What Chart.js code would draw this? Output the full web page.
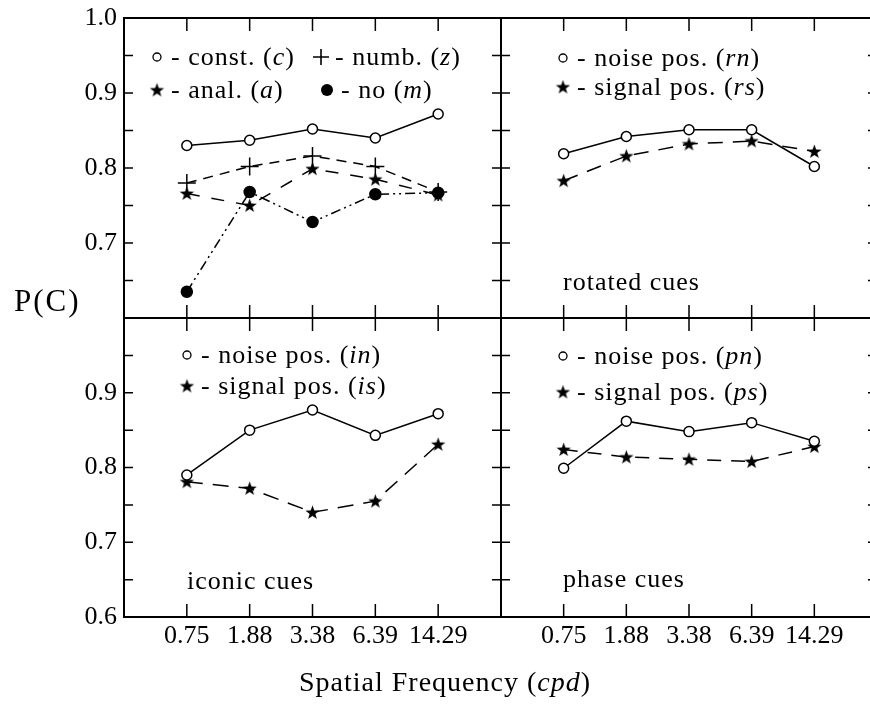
<!DOCTYPE html>
<html>
<head>
<meta charset="utf-8">
<script src="https://cdn.jsdelivr.net/npm/chart.js@4/dist/chart.umd.min.js"></script>
<style>
  html, body { margin: 0; padding: 0; background: #fff; overflow: hidden; }
  #wrap { position: relative; width: 870px; height: 707px; overflow: hidden; background: #fff; }
  canvas { position: absolute; }
  .lbl { position: absolute; font-family: "Liberation Serif", serif; color: #000; white-space: nowrap; line-height: 1; }
</style>
</head>
<body>
<div id="wrap">
  <canvas id="tl"></canvas>
  <canvas id="tr"></canvas>
  <canvas id="bl"></canvas>
  <canvas id="br"></canvas>
  <div class="lbl" style="left:14px; top:285px; font-size:31px; letter-spacing:2px;">P(C)</div>
  <div class="lbl" style="left:299px; top:668px; font-size:28px; letter-spacing:1px;">Spatial Frequency (<i>cpd</i>)</div>
</div>
<script>
// spatial frequencies (cpd), one tick per condition
const freqLabels = ['0.75', '1.88', '3.38', '6.39', '14.29'];
const yTicks = [0.6, 0.65, 0.7, 0.75, 0.8, 0.85, 0.9, 0.95, 1.0];
const yLabelsTop = ['0.7', '0.8', '0.9', '1.0'];
const yLabelsBottom = ['0.6', '0.7', '0.8', '0.9'];

// top left: cue types
const constC = [0.830, 0.837, 0.852, 0.840, 0.872];
const numbZ  = [0.780, 0.802, 0.816, 0.802, 0.768];
const analA  = [0.766, 0.750, 0.799, 0.785, 0.764];
const noM    = [0.635, 0.768, 0.728, 0.765, 0.767];
// top right: rotated cues
const rotN = [0.819, 0.842, 0.851, 0.851, 0.802];
const rotS = [0.783, 0.816, 0.832, 0.836, 0.822];
// bottom left: iconic cues
const iconN = [0.790, 0.850, 0.877, 0.843, 0.872];
const iconS = [0.781, 0.772, 0.740, 0.755, 0.831];
// bottom right: phase cues
const phaseN = [0.799, 0.862, 0.848, 0.860, 0.835];
const phaseS = [0.824, 0.814, 0.811, 0.808, 0.828];

const FONT = '"Liberation Serif", serif';
Chart.defaults.font.family = FONT;
Chart.defaults.color = '#000';

function makeStar(r) {
  const c = document.createElement('canvas');
  const s = Math.ceil(r * 2 + 2);
  c.width = s; c.height = s;
  const g = c.getContext('2d');
  g.beginPath();
  for (let k = 0; k < 10; k++) {
    const a = -Math.PI / 2 + k * Math.PI / 5;
    const rr = k % 2 ? r * 0.4 : r;
    g.lineTo(s / 2 + rr * Math.cos(a), s / 2 + 0.5 + rr * Math.sin(a));
  }
  g.closePath();
  g.fillStyle = '#000';
  g.fill();
  return c;
}
const star = makeStar(7.5);

function pts(vals) {
  return vals.map((v, i) => ({ x: i, y: v }));
}

function series(vals, kind, dash) {
  const d = {
    data: pts(vals),
    borderColor: '#000',
    borderWidth: 1.5,
    borderDash: dash,
    borderCapStyle: 'butt',
    tension: 0,
    pointBorderColor: '#000',
    pointBorderWidth: 1.5,
    pointBackgroundColor: '#fff',
    pointRadius: 5
  };
  if (kind === 'circle') { d.pointStyle = 'circle'; }
  if (kind === 'dot') { d.pointStyle = 'circle'; d.pointBackgroundColor = '#000'; d.pointRadius = 5.5; }
  if (kind === 'plus') { d.pointStyle = 'cross'; d.pointRadius = 9; }
  if (kind === 'star') { d.pointStyle = star; d.pointRadius = 8; }
  return d;
}

function drawRich(ctx, str, x, y) {
  str.split('*').forEach((p, i) => {
    ctx.font = (i % 2 ? 'italic ' : '') + '26px ' + FONT;
    ctx.fillText(p, x, y);
    x += ctx.measureText(p).width;
  });
}

function drawMarker(ctx, kind, x, y) {
  ctx.beginPath();
  if (kind === 'circle') {
    ctx.lineWidth = 1.3;
    ctx.arc(x, y, 4, 0, 2 * Math.PI);
    ctx.stroke();
  } else if (kind === 'dot') {
    ctx.arc(x, y, 6, 0, 2 * Math.PI);
    ctx.fill();
  } else if (kind === 'plus') {
    ctx.lineWidth = 1.6;
    ctx.moveTo(x - 8, y); ctx.lineTo(x + 8, y);
    ctx.moveTo(x, y - 8); ctx.lineTo(x, y + 8);
    ctx.stroke();
  } else if (kind === 'star') {
    ctx.drawImage(star, x - star.width / 2, y - star.height / 2);
  }
}

// frame, inward ticks, in-panel key and caption
const framePlugin = {
  id: 'frame',
  afterDraw(chart, args, o) {
    const { ctx, chartArea: a, scales: { x, y } } = chart;
    ctx.save();
    ctx.strokeStyle = '#000';
    ctx.fillStyle = '#000';
    ctx.lineWidth = 2;
    ctx.strokeRect(a.left, a.top, a.right - a.left, a.bottom - a.top);
    ctx.lineWidth = 1.5;
    ctx.beginPath();
    x.ticks.forEach(t => {
      const px = x.getPixelForValue(t.value);
      ctx.moveTo(px, a.top); ctx.lineTo(px, a.top + 13);
      ctx.moveTo(px, a.bottom); ctx.lineTo(px, a.bottom - 13);
    });
    y.ticks.forEach(t => {
      const py = y.getPixelForValue(t.value);
      ctx.moveTo(a.left, py); ctx.lineTo(a.left + 9, py);
      ctx.moveTo(a.right, py); ctx.lineTo(a.right - 9, py);
    });
    ctx.stroke();

    ctx.letterSpacing = '1px';
    ctx.textBaseline = 'alphabetic';
    ctx.textAlign = 'left';
    (o.key || []).forEach(k => {
      drawMarker(ctx, k.m, a.left + k.x, a.top + k.y);
      drawRich(ctx, k.t, a.left + k.x + 14, a.top + k.y + 8);
    });
    if (o.caption) {
      drawRich(ctx, o.caption.t, a.left + o.caption.x, a.top + o.caption.y);
    }
    ctx.restore();
  }
};

function panel(id, area, pad, datasets, yLabels, showX, frameOpts) {
  const cv = document.getElementById(id);
  const w = area.r - area.l + pad.l + pad.r;
  const h = area.b - area.t + pad.t + pad.b;
  cv.width = w; cv.height = h;
  cv.style.left = (area.l - pad.l) + 'px';
  cv.style.top = (area.t - pad.t) + 'px';
  cv.style.width = w + 'px';
  cv.style.height = h + 'px';
  const noPad = s => { s.paddingTop = 0; s.paddingBottom = 0; s.paddingLeft = 0; s.paddingRight = 0; };
  return new Chart(cv, {
    type: 'line',
    data: { datasets: datasets },
    plugins: [framePlugin],
    options: {
      responsive: false,
      animation: false,
      devicePixelRatio: 1,
      layout: { autoPadding: false, padding: { left: 0, top: pad.t, right: pad.r, bottom: 0 } },
      plugins: {
        legend: { display: false },
        tooltip: { enabled: false },
        frame: frameOpts
      },
      scales: {
        x: {
          type: 'linear', min: -1, max: 5,
          grid: { display: false, drawTicks: false },
          border: { display: false },
          afterBuildTicks: s => { s.ticks = freqLabels.map((_, i) => ({ value: i })); },
          afterFit: s => { s.height = pad.b; noPad(s); },
          ticks: {
            display: showX, autoSkip: false, maxRotation: 0, padding: 4,
            font: { size: 26 }, color: '#000',
            callback: v => freqLabels[v]
          }
        },
        y: {
          type: 'linear', min: 0.6, max: 1.0,
          grid: { display: false, drawTicks: false },
          border: { display: false },
          afterBuildTicks: s => { s.ticks = yTicks.map(v => ({ value: v })); },
          afterFit: s => { s.width = pad.l; noPad(s); },
          ticks: {
            display: yLabels.length > 0, autoSkip: false, padding: 7,
            font: { size: 26 }, color: '#000',
            callback: v => {
              const t = v.toFixed(1);
              return Math.abs(v * 10 - Math.round(v * 10)) < 1e-6 && yLabels.includes(t) ? t : '';
            }
          }
        }
      }
    }
  });
}

panel('tl', { l: 124, t: 18, r: 501, b: 318 }, { l: 124, t: 18, r: 4, b: 4 }, [
  series(constC, 'circle', []),
  series(numbZ, 'plus', [10, 7]),
  series(analA, 'star', [13, 12]),
  series(noM, 'dot', [10, 4, 2, 4, 2, 4])
], yLabelsTop, false, {
  key: [
    { m: 'circle', x: 33, y: 39, t: '- const. (*c*)' },
    { m: 'plus', x: 197, y: 39, t: '- numb. (*z*)' },
    { m: 'star', x: 33, y: 72, t: '- anal. (*a*)' },
    { m: 'dot', x: 203, y: 72, t: '- no (*m*)' }
  ]
});

panel('tr', { l: 501, t: 18, r: 877, b: 318 }, { l: 4, t: 18, r: 4, b: 4 }, [
  series(rotN, 'circle', []),
  series(rotS, 'star', [15, 10])
], [], false, {
  key: [
    { m: 'circle', x: 62, y: 40, t: '- noise pos. (*rn*)' },
    { m: 'star', x: 62, y: 69, t: '- signal pos. (*rs*)' }
  ],
  caption: { t: 'rotated cues', x: 62, y: 272 }
});

panel('bl', { l: 124, t: 318, r: 501, b: 617 }, { l: 124, t: 4, r: 4, b: 50 }, [
  series(iconN, 'circle', []),
  series(iconS, 'star', [16, 10])
], yLabelsBottom, true, {
  key: [
    { m: 'circle', x: 63, y: 37, t: '- noise pos. (*in*)' },
    { m: 'star', x: 63, y: 68, t: '- signal pos. (*is*)' }
  ],
  caption: { t: 'iconic cues', x: 63, y: 271 }
});

panel('br', { l: 501, t: 318, r: 877, b: 617 }, { l: 4, t: 4, r: 4, b: 50 }, [
  series(phaseN, 'circle', []),
  series(phaseS, 'star', [14, 10])
], [], true, {
  key: [
    { m: 'circle', x: 62, y: 38, t: '- noise pos. (*pn*)' },
    { m: 'star', x: 62, y: 74, t: '- signal pos. (*ps*)' }
  ],
  caption: { t: 'phase cues', x: 62, y: 269 }
});
</script>
</body>
</html>
